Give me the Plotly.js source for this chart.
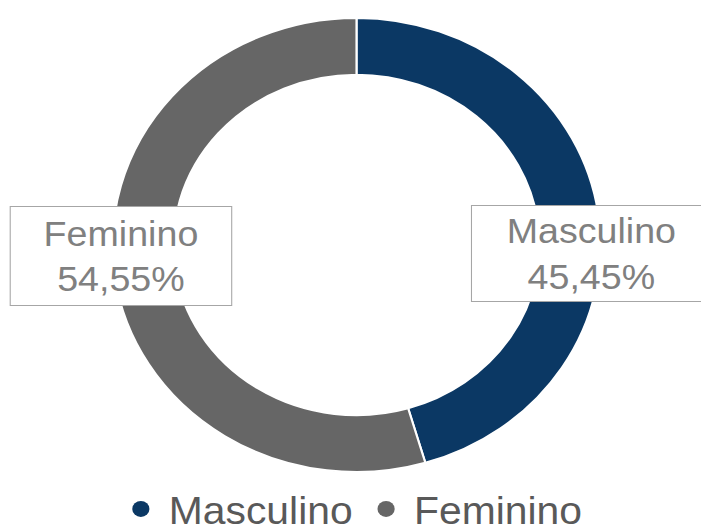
<!DOCTYPE html>
<html>
<head>
<meta charset="utf-8">
<script src="https://cdn.plot.ly/plotly-3.0.1.min.js"></script>
<style>
  html, body { margin: 0; padding: 0; background: #ffffff; overflow: hidden; }
  #chart { width: 652px; height: 531px; transform: scaleX(1.0752); transform-origin: 0 0; }
</style>
</head>
<body>
<div id="chart"></div>
<script>
// Data
const categories = ["Masculino", "Feminino"];
const shares = [45.45, 54.55];
const shareLabels = ["45,45%", "54,55%"];
const sliceColors = ["#0b3864", "#666666"];

const FONT = "Liberation Sans, Arial, Helvetica, sans-serif";

const pieTrace = {
  type: "pie",
  labels: categories,
  values: shares,
  sort: false,
  direction: "clockwise",
  rotation: 0,
  hole: 0.75,
  textinfo: "none",
  hoverinfo: "label+percent",
  showlegend: false,
  marker: { colors: sliceColors, line: { color: "#ffffff", width: 2 } },
  domain: { x: [0.1604, 0.8567], y: [0.1111, 0.9661] }
};

// Legend entries (circle markers) drawn via the library's legend
const legendTraces = categories.map((c, i) => ({
  type: "scatter",
  mode: "markers",
  x: [null],
  y: [null],
  name: c,
  marker: { symbol: "circle", size: 18, color: sliceColors[i] },
  hoverinfo: "skip",
  showlegend: true
}));

// Data label boxes
const labelBoxes = [
  { idx: 0, x: 0.8433, y: 0.522, width: 220, height: 93 },
  { idx: 1, x: 0.1722, y: 0.5185, width: 203, height: 96 }
];

const annotations = labelBoxes.map(b => ({
  xref: "paper", yref: "paper",
  x: b.x, y: b.y,
  xanchor: "center", yanchor: "middle",
  showarrow: false,
  text: categories[b.idx] + "<br>" + shareLabels[b.idx],
  align: "center",
  width: b.width, height: b.height,
  bgcolor: "#ffffff",
  bordercolor: "#a6a6a6",
  borderwidth: 1,
  borderpad: 1,
  font: { family: FONT, size: 35, color: "#808080" }
}));

const layout = {
  width: 652,
  height: 531,
  margin: { l: 0, r: 0, t: 0, b: 0, autoexpand: false },
  paper_bgcolor: "#ffffff",
  plot_bgcolor: "#ffffff",
  xaxis: { visible: false },
  yaxis: { visible: false },
  showlegend: true,
  legend: {
    orientation: "h",
    x: 0.5, xanchor: "center",
    y: 0.041, yanchor: "middle",
    itemwidth: 42,
    font: { family: FONT, size: 38, color: "#595959" },
    bgcolor: "rgba(0,0,0,0)"
  },
  annotations: annotations
};

Plotly.newPlot("chart", [pieTrace, ...legendTraces], layout, { displayModeBar: false, staticPlot: true });
</script>
</body>
</html>
